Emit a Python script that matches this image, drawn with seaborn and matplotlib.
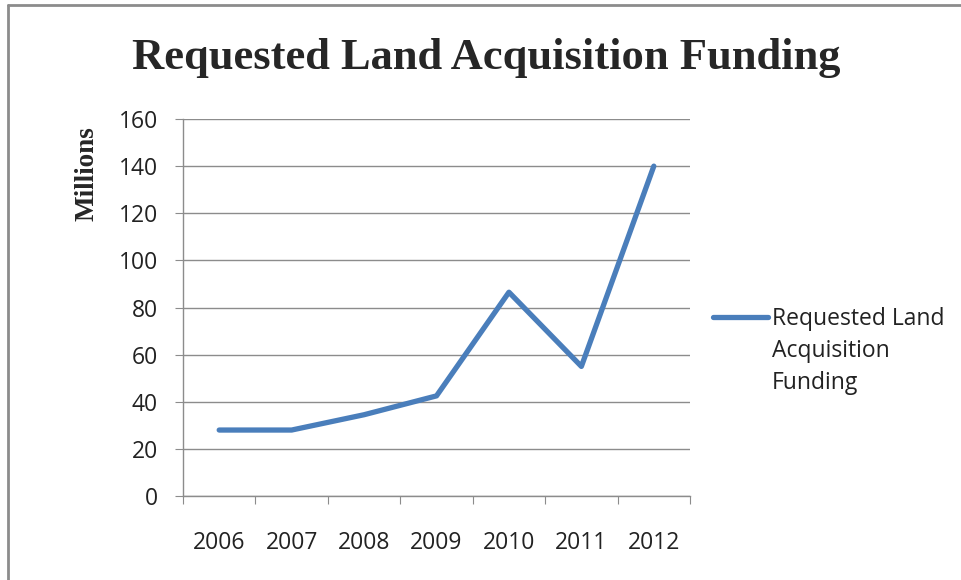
import matplotlib
matplotlib.use("Agg")
import matplotlib.pyplot as plt
from matplotlib.lines import Line2D
import seaborn as sns
import pandas as pd

# Requested funding per year, millions
years = ["2006", "2007", "2008", "2009", "2010", "2011", "2012"]
funding = [28, 28, 34.5, 42.5, 86.5, 55, 140]
series_name = "Requested Land Acquisition Funding"
legend_label = "Requested Land\nAcquisition\nFunding"
y_ticks = [0, 20, 40, 60, 80, 100, 120, 140, 160]

df = pd.DataFrame({"pos": range(len(years)), "funding": funding})

sns.set_style("white")
plt.rcParams["font.family"] = ["Open Sans", "DejaVu Sans"]
serif = ["Liberation Serif", "DejaVu Serif"]
line_color = "#4A7EBB"
grey = "#8C8C8C"

fig = plt.figure(figsize=(9.62, 5.8), dpi=100)
ax = fig.add_axes([0.1902, 0.1448, 0.7173 - 0.1902, 0.7948 - 0.1448])

sns.lineplot(data=df, x="pos", y="funding", ax=ax, color=line_color, linewidth=3.8,
             legend=False)

ax.set_xlim(-0.5, len(years) - 0.5)
ax.set_ylim(0, 160)
ax.set_yticks(y_ticks)
ax.set_yticklabels([str(t) for t in y_ticks], fontsize=16.5, color="#222222")
ax.yaxis.grid(True, color=grey, linewidth=1)
ax.set_axisbelow(True)

# category boundaries carry tick marks, centers carry labels
ax.set_xticks([i - 0.5 for i in range(len(years) + 1)])
ax.set_xticklabels([])
ax.set_xticks(list(range(len(years))), minor=True)
ax.set_xticklabels(years, minor=True, fontsize=16.5, color="#222222")
ax.tick_params(axis="x", which="major", direction="out", length=6, color=grey, bottom=True)
ax.tick_params(axis="x", which="minor", length=0, pad=25)
ax.tick_params(axis="y", direction="out", length=6, color=grey, left=True, pad=12)

for s in ["top", "right"]:
    ax.spines[s].set_visible(False)
for s in ["left", "bottom"]:
    ax.spines[s].set_color(grey)
    ax.spines[s].set_linewidth(1)

ax.set_xlabel("")
ax.set_ylabel("Millions", family=serif, fontweight="bold", fontsize=19.5)
ax.yaxis.set_label_coords(-0.165, 0.855)

fig.text(0.505, 0.9, series_name, ha="center", va="center", fontsize=32,
         fontweight="bold", family=serif)

# legend drawn at the right of the plot
fig.add_artist(Line2D([713 / 962, 768 / 962], [1 - 317 / 580, 1 - 317 / 580],
                      transform=fig.transFigure, color=line_color, linewidth=3.8,
                      solid_capstyle="round"))
fig.text(772 / 962, 1 - 307 / 580, legend_label, ha="left", va="top", fontsize=16.5,
         color="#222222", linespacing=1.45)

# outer chart frame
fig.add_artist(Line2D([0.0083, 0.0083], [0, 0.992], transform=fig.transFigure,
                      color=grey, linewidth=2))
fig.add_artist(Line2D([0.0083, 1], [0.992, 0.992], transform=fig.transFigure,
                      color=grey, linewidth=2))

fig.savefig("out.png", dpi=100)
